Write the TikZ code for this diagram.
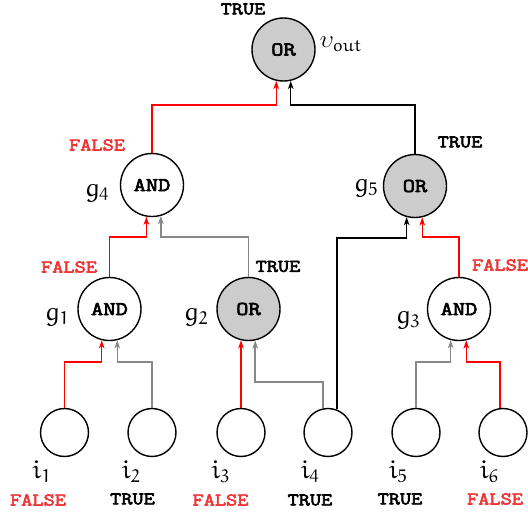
\documentclass[tikz,border=0pt]{standalone}
\usepackage{fontspec}
\newfontfamily\monob{Latin Modern Mono}[FakeBold=3.4,FakeStretch=1.22]
\DeclareMathAlphabet{\mathEu}{U}{eur}{m}{n}
\usetikzlibrary{arrows.meta}
\definecolor{ftext}{RGB}{238,52,52}
\definecolor{egray}{RGB}{136,136,136}
\definecolor{gfill}{RGB}{204,204,204}
\begin{document}
\begin{tikzpicture}[x=1pt,y=-1pt,
  gate/.style={circle,draw,line width=1.4pt,minimum size=63pt,inner sep=0pt,
    font=\monob\fontsize{19.5}{19.5}\selectfont},
  orgate/.style={gate,fill=gfill},
  inp/.style={circle,draw,line width=1.4pt,minimum size=48pt,inner sep=0pt},
  tval/.style={inner sep=0pt,font=\monob\fontsize{17.8}{17.8}\selectfont},
  fval/.style={tval,text=ftext},
  nm/.style={inner sep=0pt,font=\fontsize{26}{26}\selectfont},
  wire/.style={line width=1.4pt,-{Stealth[length=8pt,width=5.5pt,inset=2pt]}},
  rw/.style={wire,red},
  gw/.style={wire,egray},
  bw/.style={wire,black}]
\useasboundingbox (0,0) rectangle (528,514);
% gates
\node[orgate] (out) at (283.5,49.5) {OR};
\node[gate]   (g4)  at (152,185) {AND};
\node[orgate] (g5)  at (415,186) {OR};
\node[gate]   (g1)  at (109.5,309) {AND};
\node[orgate] (g2)  at (248.5,309) {OR};
\node[gate]   (g3)  at (459,309) {AND};
% inputs
\node[inp] (i1) at (64.5,432.5) {};
\node[inp] (i2) at (152,432.5) {};
\node[inp] (i3) at (241,432.5) {};
\node[inp] (i4) at (328,432.5) {};
\node[inp] (i5) at (416,432.5) {};
\node[inp] (i6) at (503,432.5) {};
% levels
\coordinate (yin) at (0,362);
\coordinate (yg) at (0,382);
\coordinate (yb) at (0,238);
\coordinate (ymid) at (0,237);
\coordinate (ytop) at (0,105);
% wires
\draw[rw] (i1.north) -- (i1.north |- yin) -| (g1.256);
\draw[gw] (i2.north) -- (i2.north |- yin) -| (g1.284);
\draw[rw] (i3.north) -- (i3.north |- g2.256);
\draw[gw] (i4.102) -- (i4.102 |- yg) -| (g2.282);
\draw[bw] (i4.69) -- (i4.69 |- yb) -| (g5.255);
\draw[gw] (i5.north) -- (i5.north |- yin) -| (g3.255);
\draw[rw] (i6.97) -- (i6.97 |- yin) -| (g3.283);
\draw[rw] (g1.north) -- (g1.north |- ymid) -| (g4.260);
\draw[gw] (g2.north) -- (g2.north |- ymid) -| (g4.286);
\draw[rw] (g3.north) -- (g3.north |- ymid) -| (g5.283);
\draw[rw] (g4.north) -- (g4.north |- ytop) -| (out.257);
\draw[bw] (g5.north) -- (g5.north |- ytop) -| (out.283);
% names
\node[nm,font=\fontsize{25}{25}\selectfont] (nout) at (341,44) {$\mathEu{\upsilon}_{\mathEu{out}}$};
\node[nm] (n4) at (97,193) {$\mathEu{g}_{\mathEu{4}}$};
\node[nm] (n1) at (57,317) {$\mathEu{g}_{\mathEu{1}}$};
\node[nm] (n2) at (196,317) {$\mathEu{g}_{\mathEu{2}}$};
\node[nm] (n5) at (366,188) {$\mathEu{g}_{\mathEu{5}}$};
\node[nm] (n3) at (408,320) {$\mathEu{g}_{\mathEu{3}}$};
\node[nm] (m1) at (41.7,472) {$\mathEu{i}_{\mathEu{1}}$};
\node[nm] (m2) at (131,472) {$\mathEu{i}_{\mathEu{2}}$};
\node[nm] (m3) at (220.5,472) {$\mathEu{i}_{\mathEu{3}}$};
\node[nm] (m4) at (310,472) {$\mathEu{i}_{\mathEu{4}}$};
\node[nm] (m5) at (398,472) {$\mathEu{i}_{\mathEu{5}}$};
\node[nm] (m6) at (489,472) {$\mathEu{i}_{\mathEu{6}}$};
% values
\node[tval] (vout) at (243,9) {TRUE};
\node[fval] (v4) at (97,145) {FALSE};
\node[fval] (v1) at (69,267) {FALSE};
\node[tval] (v2) at (278,266.5) {TRUE};
\node[tval] (v5) at (460,142) {TRUE};
\node[fval] (v3) at (500,265) {FALSE};
\node[fval] (w1) at (38,500) {FALSE};
\node[tval] (w2) at (132.5,499) {TRUE};
\node[fval] (w3) at (220.5,500) {FALSE};
\node[tval] (w4) at (310,500) {TRUE};
\node[tval] (w5) at (400,499) {TRUE};
\node[fval] (w6) at (495,499) {FALSE};
\end{tikzpicture}
\end{document}
